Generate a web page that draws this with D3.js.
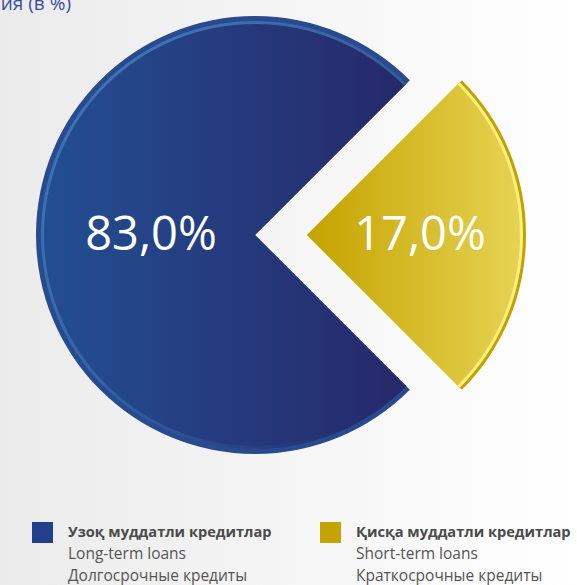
<!DOCTYPE html>
<html>
<head>
<meta charset="utf-8">
<script src="https://cdn.jsdelivr.net/npm/d3@7"></script>
<style>
  html, body { margin: 0; padding: 0; }
  body { width: 577px; height: 585px; overflow: hidden; }
  svg { display: block; font-family: "Open Sans", "Noto Sans", sans-serif; }
</style>
</head>
<body>
<div id="chart"></div>
<script>
const categories = ["long", "short"];
const shares = [83.0, 17.0];
const titlesUz = ["Узоқ муддатли кредитлар", "Қисқа муддатли кредитлар"];
const titlesEn = ["Long-term loans", "Short-term loans"];
const titlesRu = ["Долгосрочные кредиты", "Краткосрочные кредиты"];
const chartTitle = "Структура кредитов по срокам погашения (в %)";

const width = 577;
const height = 585;

const color = d3.scaleOrdinal()
  .domain(categories)
  .range(["#213f8a", "#c4a400"]);

const fmt = v => d3.format(".1f")(v).replace(".", ",") + "%";

const svg = d3.select("#chart")
  .append("svg")
  .attr("width", width)
  .attr("height", height);

const defs = svg.append("defs");

// gradients are given in the coordinates of the element that uses them
function linGrad(id, x1, y1, x2, y2, stops) {
  const gr = defs.append("linearGradient")
    .attr("id", id)
    .attr("gradientUnits", "userSpaceOnUse")
    .attr("x1", x1).attr("y1", y1)
    .attr("x2", x2).attr("y2", y2);
  stops.forEach(s => gr.append("stop")
    .attr("offset", s[0])
    .attr("stop-color", s[1])
    .attr("stop-opacity", s[2] == null ? 1 : s[2]));
}

const cx = 255, cy = 235, r = 219;
const pull = 52;
const cut = [Math.PI / 4, Math.PI * 3 / 4];

linGrad("bg", 0, 0, width, 0, [[0, "#ebebeb"], [1, "#ffffff"]]);
linGrad("blueFill", 36 - cx, 0, 400 - cx, 0, [[0, "#234f93"], [1, "#26296a"]]);
linGrad("blueHl", 60 - cx, 100 - cy, 350 - cx, 420 - cy,
  [[0, "#3f74b6", 1], [0.55, "#3f74b6", 0.6], [1, "#3f74b6", 0]]);
linGrad("yellowFill", 0, 0, r, 0, [[0, "#c4a300"], [1, "#e8d455"]]);

svg.append("rect")
  .attr("width", width)
  .attr("height", height)
  .attr("fill", "url(#bg)");

// title, only its tail is visible at the top-left
svg.append("text")
  .attr("x", 71)
  .attr("y", 10)
  .attr("text-anchor", "end")
  .attr("fill", "#3c4ea0")
  .style("font-size", "19px")
  .text(chartTitle);

// long-term part keeps a 90° notch, short-term wedge is pulled out to the right
const segments = [
  { key: "long", value: shares[0], start: cut[1], end: cut[0] + 2 * Math.PI, dx: 0 },
  { key: "short", value: shares[1], start: cut[0], end: cut[1], dx: pull }
];

const arc = d3.arc();
const wedge = (d, outer, inner = 0) =>
  arc({ innerRadius: inner, outerRadius: outer, startAngle: d.start, endAngle: d.end });

const s0 = segments[0];
const blue = svg.append("g").attr("transform", `translate(${cx + s0.dx},${cy})`);

blue.append("path")
  .attr("d", wedge(s0, r))
  .attr("fill", "#284a8f");

blue.append("path")
  .attr("d", wedge(s0, r - 5))
  .attr("fill", "url(#blueFill)");

blue.append("path")
  .attr("d", wedge(s0, r - 5, r - 8))
  .attr("fill", "url(#blueHl)");

const s1 = segments[1];
const yellow = svg.append("g").attr("transform", `translate(${cx + s1.dx},${cy})`);

yellow.append("path")
  .attr("d", wedge(s1, r))
  .attr("fill", "#c2a100");

yellow.append("path")
  .attr("d", wedge(s1, r - 3))
  .attr("fill", "#fdf07c");

yellow.append("path")
  .attr("d", wedge(s1, r - 6))
  .attr("fill", "url(#yellowFill)");

// value labels
const labelX = [151, 420];
svg.selectAll(".value-label")
  .data(segments)
  .enter()
  .append("text")
  .attr("class", "value-label")
  .attr("x", (d, i) => labelX[i])
  .attr("y", 250)
  .attr("text-anchor", "middle")
  .attr("fill", "#ffffff")
  .style("font-size", "47px")
  .text(d => fmt(d.value));

// legend
const legendX = [32, 320];
const legend = svg.selectAll(".legend-item")
  .data(categories)
  .enter()
  .append("g")
  .attr("class", "legend-item")
  .attr("transform", (d, i) => `translate(${legendX[i]},522)`);

legend.append("rect")
  .attr("width", 21)
  .attr("height", 21)
  .attr("fill", d => color(d));

legend.append("text")
  .attr("x", 36)
  .attr("y", 15)
  .attr("fill", "#4a4a4a")
  .style("font-size", "14.6px")
  .style("font-weight", "bold")
  .text((d, i) => titlesUz[i]);

legend.append("text")
  .attr("x", 36)
  .attr("y", 37)
  .attr("fill", "#555555")
  .style("font-size", "15.5px")
  .text((d, i) => titlesEn[i]);

legend.append("text")
  .attr("x", 36)
  .attr("y", 59)
  .attr("fill", "#555555")
  .style("font-size", "15.5px")
  .text((d, i) => titlesRu[i]);
</script>
</body>
</html>
